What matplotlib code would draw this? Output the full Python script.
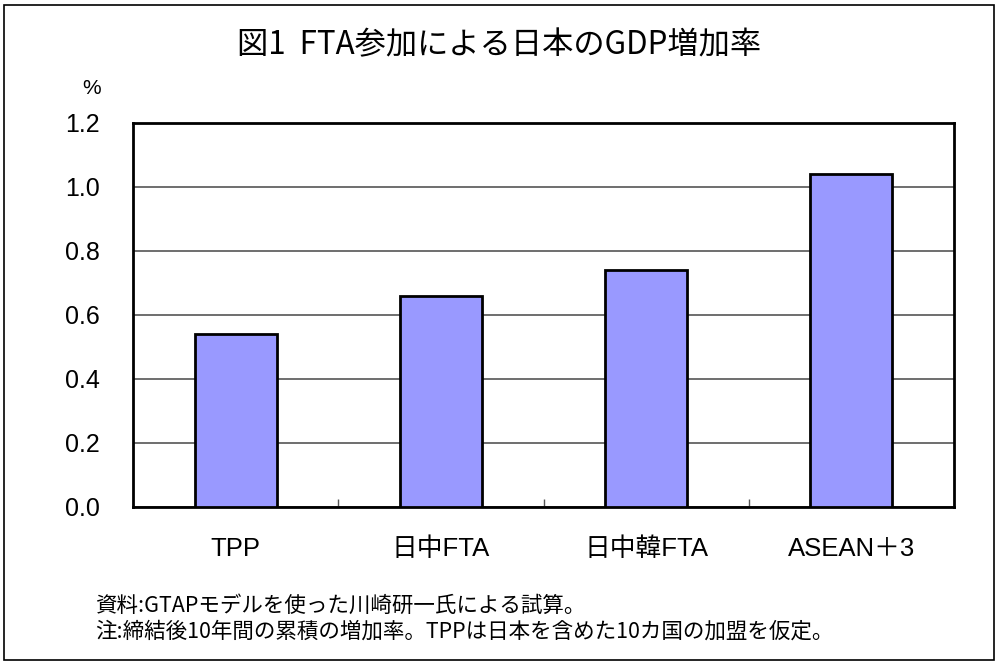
import matplotlib.pyplot as plt
from matplotlib.patches import Rectangle

plt.rcParams['font.family'] = ['Noto Sans CJK JP', 'DejaVu Sans']
latin_first = ['Liberation Sans', 'Noto Sans CJK JP']

# data
categories = ["TPP", "日中FTA", "日中韓FTA", "ASEAN＋3"]
gdp_growth = [0.54, 0.66, 0.74, 1.04]
yticks = [0.0, 0.2, 0.4, 0.6, 0.8, 1.0, 1.2]

fig = plt.figure(figsize=(9.98, 6.64), dpi=100)

# outer frame
fig.patches.append(Rectangle((0.004, 0.006), 0.992, 0.986, transform=fig.transFigure,
                             fill=False, edgecolor="black", linewidth=1.2))

ax = fig.add_axes([133 / 998, 1 - 507 / 664, 821 / 998, 384 / 664])

x = range(len(categories))
ax.bar(x, gdp_growth, width=0.4, color="#9999FF", edgecolor="black", linewidth=2, zorder=3)

ax.set_xlim(-0.5, len(categories) - 0.5)
ax.set_ylim(0, 1.2)
ax.set_yticks(yticks)
ax.set_yticklabels([f"{v:.1f}" for v in yticks], fontsize=18, family=latin_first)
ax.yaxis.grid(True, color="#555555", linewidth=1.2, zorder=0)

# category labels without ticks, tick marks at category boundaries
ax.set_xticks([i + 0.5 for i in range(len(categories) - 1)])
ax.set_xticklabels([])
ax.tick_params(axis="x", direction="in", length=6, width=1, color="#555555")
ax.tick_params(axis="y", direction="in", length=0, pad=24)
for i, lab in enumerate(categories):
    ax.text(i, -0.131, lab, ha="center", va="center", fontsize=18.5, family=latin_first)

for s in ax.spines.values():
    s.set_linewidth(2)

fig.text(0.5, 1 - 45 / 664, "図1  FTA参加による日本のGDP増加率", ha="center", va="center", fontsize=22.5)
fig.text(92 / 998, 1 - 89 / 664, "%", ha="center", va="center", fontsize=15, family=latin_first)

fig.text(95 / 998, 1 - 606 / 664, "資料:GTAPモデルを使った川崎研一氏による試算。", ha="left", va="center", fontsize=15.5)
fig.text(95 / 998, 1 - 632 / 664, "注:締結後10年間の累積の増加率。TPPは日本を含めた10カ国の加盟を仮定。", ha="left", va="center", fontsize=15.5)

fig.savefig("out.png", dpi=100)
